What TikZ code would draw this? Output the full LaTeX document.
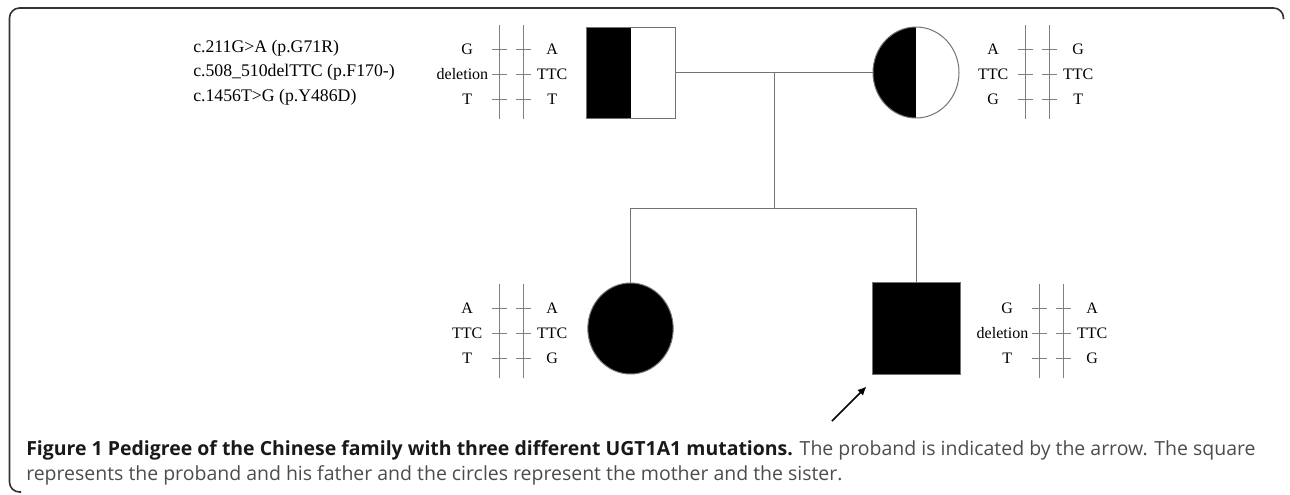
\documentclass[tikz,border=0pt]{standalone}
\usepackage{fontspec}
\setmainfont{Liberation Serif}
\newfontfamily\capfont{Open Sans}
\usetikzlibrary{arrows.meta,shapes.geometric}

\tikzset{
	line/.style={draw=black!55, line width=0.75pt},
	bar/.style={draw=black!50, line width=0.6pt},
	person/.style={line, inner sep=0pt, minimum width=66.75pt, minimum height=68.25pt},
	halffill/.style={path picture={\fill[black] (path picture bounding box.south west) rectangle (path picture bounding box.north);}},
	allele/.style={inner sep=0pt, font=\fontsize{12}{14}\selectfont},
	lallele/.style={allele, anchor=east, minimum width=31.5pt},
	rallele/.style={allele, anchor=west, minimum width=27pt},
	mutation/.style={anchor=west, inner sep=0pt, font=\fontsize{13.3}{15}\selectfont},
	caption/.style={anchor=base west, inner sep=0pt, font=\capfont\fontsize{14.6}{18}\selectfont},
}

% pair of chromosome bars: \chrpair(x of left bar,top)(name){left/right,...}
\def\chrpair(#1,#2)(#3)#4{
	\draw[bar] (#1,#2) -- ++(0,94);
	\draw[bar] (#1+24.5,#2) -- ++(0,94);
	\foreach \la/\ra [count=\i] in {#4} {
		\draw[bar] (#1-7.5,#2-1+25*\i) -- ++(15,0);
		\draw[bar] (#1+17,#2-1+25*\i) -- ++(15,0);
		\node[lallele] (#3-l\i) at (#1-10.5,#2-1+25*\i) {\la};
		\node[rallele] (#3-r\i) at (#1+35,#2-1+25*\i) {\ra};
	}
}

\begin{document}
\begin{tikzpicture}[x=0.75pt, y=-0.75pt]
		%%%%% START %%%%%
		\useasboundingbox (0,0) rectangle (1290,494);
		
		\draw[draw=black!80, line width=1.2pt, rounded corners=7.5pt] (21,492) -- (9.5,492) -- (9.5,8) -- (1283.5,8) -- (1283.5,19);
		
		% mutations
		\node[mutation] (mut1) at (193,48) {c.211G>A (p.G71R)};
		\node[mutation] (mut2) at (193,72.5) {c.508\_510delTTC (p.F170-)};
		\node[mutation] (mut3) at (193,97) {c.1456T>G (p.Y486D)};
		
		% parents
		\node[person, halffill] (father) at (630.5,72.5) {};
		\node[person, ellipse, halffill, minimum width=64.5pt] (mother) at (916,72.5) {};
		
		% children
		\node[person, ellipse, fill=black, minimum width=64pt] (sister) at (630.5,328.5) {};
		\node[person, fill=black, minimum width=66pt, minimum height=69pt] (proband) at (916,328) {};
		
		\draw[line] (father) -- coordinate (union) (mother);
		\coordinate (sibship) at (union |- 0,208);
		\draw[line] (union) -- (sibship);
		\draw[line] (sister.north) -- (sister.north |- sibship) -- (proband.north |- sibship) -- (proband.north);
		
		% haplotypes
		\chrpair(499,25)(fhap){G/A, deletion/TTC, T/T}
		\chrpair(1025,25)(mhap){A/G, TTC/TTC, G/T}
		\chrpair(499,284)(shap){A/A, TTC/TTC, T/G}
		\chrpair(1039,284)(phap){G/A, deletion/TTC, T/G}
		
		\coordinate (pointer) at (832,421);
		\draw[-{Latex[length=6.5pt,width=6pt]}, line width=1.3pt] (pointer) -- ([xshift=-3.75pt, yshift=-9pt]proband.south west);
		
		% caption
		\node[caption] (caption1) at (26,455) {\textbf{\color{black!90}Figure 1 Pedigree of the Chinese family with three different UGT1A1 mutations.} {\color{black!70}The proband is indicated by the arrow. The square}};
		\node[caption, text=black!70] (caption2) at (26,480) {represents the proband and his father and the circles represent the mother and the sister.};
		
		%%%%% END %%%%%
	\end{tikzpicture}
\end{document}
